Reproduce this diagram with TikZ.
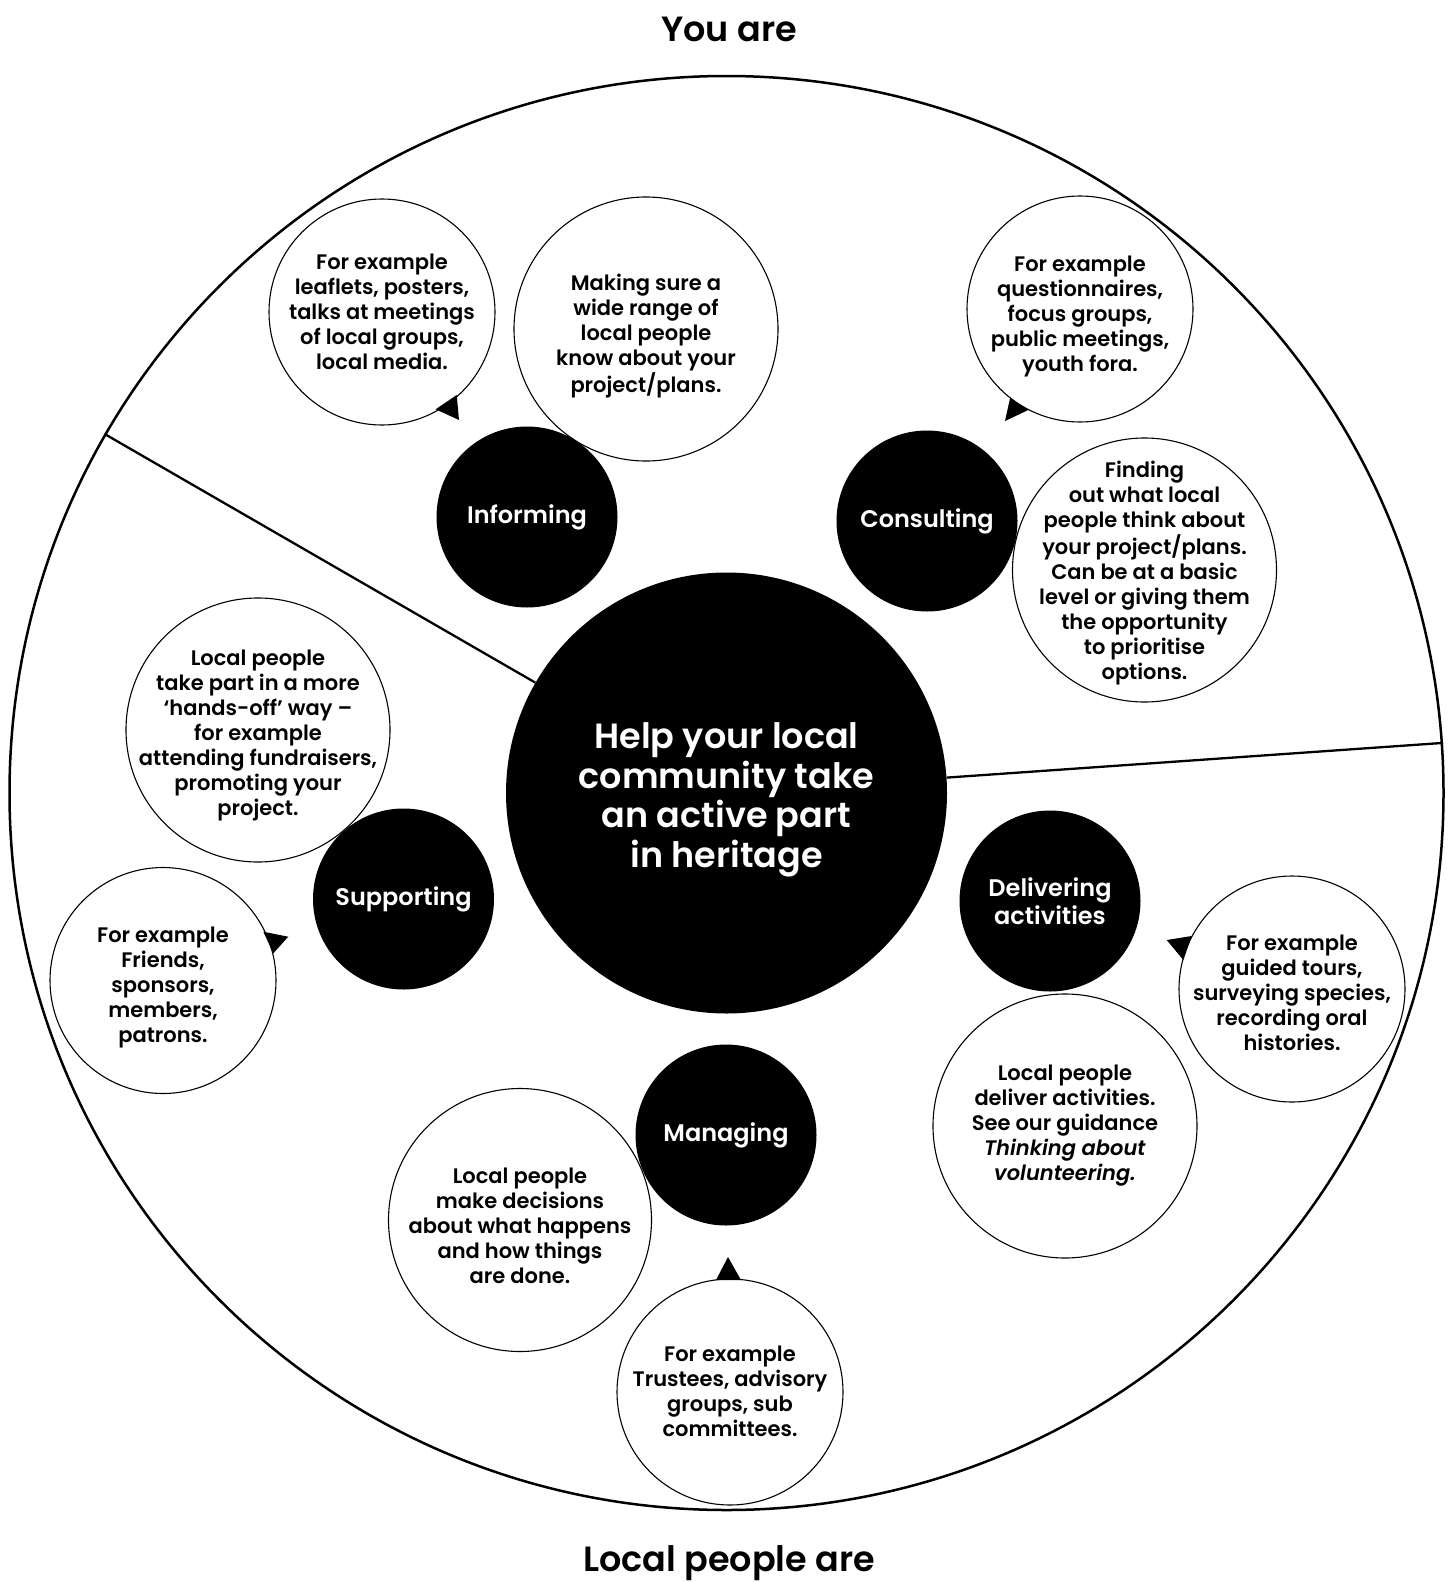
\documentclass[tikz,border=0pt]{standalone}
\usepackage{fontspec}
\setmainfont{Poppins}[UprightFont=* SemiBold, ItalicFont=* SemiBold Italic, BoldFont=* Bold]
\begin{document}
\begin{tikzpicture}[x=1pt,y=-1pt,
  ringstyle/.style={circle,draw,line width=2.5pt,minimum size=1434pt,inner sep=0pt},
  corestyle/.style={circle,fill=black,minimum size=441pt,inner sep=0pt},
  coretext/.style={text=white,align=center,inner sep=0pt,font=\fontsize{35}{39.5}\selectfont},
  blackdot/.style={circle,fill=black,minimum size=181pt,inner sep=0pt,text=white,align=center,font=\fontsize{24}{28}\selectfont},
  bubble/.style={circle,draw,line width=1.1pt,fill=white,minimum size=#1,inner sep=0pt},
  bubble/.default=226pt,
  bubtext/.style={align=center,inner sep=0pt,font=\fontsize{21}{25}\selectfont},
  divider/.style={line width=2.3pt},
  tailstyle/.style={fill=black},
  titlestyle/.style={anchor=base,font=\fontsize{35}{40}\selectfont}]
\useasboundingbox (0,0) rectangle (1451,1582);

\node[titlestyle] (youare) at (729,41) {You are};
\node[titlestyle] (localare) at (729,1571) {Local people are};

\node[ringstyle] (ring) at (726.5,793) {};
\node[corestyle] (core) at (726.5,793) {};
\node[coretext] (coret) at (726.5,800) {Help your local\\community take\\an active part\\in heritage};

\draw[divider] (ring.150.66) -- (core.150.1);
\draw[divider] (core.4.85) -- (ring.4.6);

% black circles
\node[blackdot] (inform) at (527,517) {Informing};
\node[blackdot] (consult) at (927,521) {Consulting};
\node[blackdot] (support) at (403.5,899) {Supporting};
\node[blackdot] (deliver) at (1050,901) {Delivering\\activities};
\node[blackdot] (manage) at (726,1135) {Managing};

% white bubbles
\node[bubble] (infex) at (382,312) {};
\node[bubtext] (infext) at (382,312) {For example\\leaflets, posters,\\talks at meetings\\of local groups,\\local media.};
\node[bubble=264pt] (infdesc) at (646,329) {};
\node[bubtext] (infdesct) at (646,336) {Making sure a\\wide range of\\local people\\know about your\\project/plans.};
\node[bubble] (conex) at (1080,309) {};
\node[bubtext] (conext) at (1080,316) {For example\\questionnaires,\\focus groups,\\public meetings,\\youth fora.};
\node[bubble=264pt] (condesc) at (1144.5,570) {};
\node[bubtext] (condesct) at (1144.5,573) {Finding\\out what local\\people think about\\your project/plans.\\Can be at a basic\\level or giving them\\the opportunity\\to prioritise\\options.};
\node[bubble=264pt] (supdesc) at (258,730) {};
\node[bubtext] (supdesct) at (258,735) {Local people\\take part in a more\\‘hands-off’ way –\\for example\\attending fundraisers,\\promoting your\\project.};
\node[bubble] (supex) at (163,980.5) {};
\node[bubtext] (supext) at (163,987.5) {For example\\Friends,\\sponsors,\\members,\\patrons.};
\node[bubble] (delex) at (1292,989) {};
\node[bubtext] (delext) at (1292,993) {For example\\guided tours,\\surveying species,\\recording oral\\histories.};
\node[bubble=264pt] (deldesc) at (1065,1126) {};
\node[bubtext] (deldesct) at (1065,1126) {Local people\\deliver activities.\\See our guidance\\\textit{Thinking about}\\\textit{volunteering.}};
\node[bubble=263pt] (mandesc) at (520,1220) {};
\node[bubtext] (mandesct) at (520,1226) {Local people\\make decisions\\about what happens\\and how things\\are done.};
\node[bubble] (manex) at (730,1392) {};
\node[bubtext] (manext) at (730,1391) {For example\\Trustees, advisory\\groups, sub\\committees.};

% speech tails
\fill[tailstyle] (435.7,409.3) -- (456.7,395) -- (459,420) -- cycle;
\fill[tailstyle] (1005,421) -- (1010,398.3) -- (1028.3,410) -- cycle;
\fill[tailstyle] (263.3,931.7) -- (288.3,936.7) -- (273.3,953.3) -- cycle;
\fill[tailstyle] (1166.7,940) -- (1191.7,936) -- (1183.3,960) -- cycle;
\fill[tailstyle] (728,1257) -- (716,1280) -- (741,1280) -- cycle;
\end{tikzpicture}
\end{document}
